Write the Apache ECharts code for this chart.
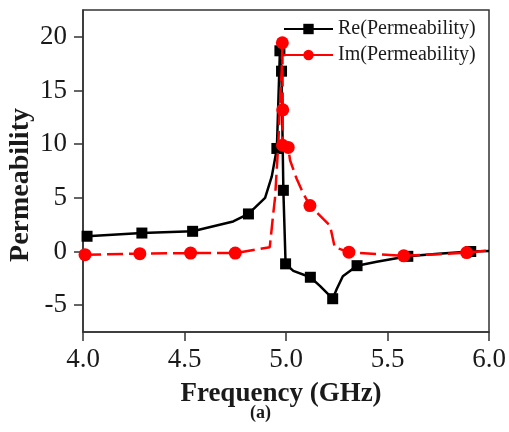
<!DOCTYPE html>
<html>
<head>
<meta charset="utf-8">
<script src="https://cdn.jsdelivr.net/npm/echarts@6/dist/echarts.min.js"></script>
<style>html,body{margin:0;padding:0;background:#fff}#c{width:509px;height:432px}</style>
</head>
<body>
<div id="c"></div>
<script>
// ---- data ----
var xTicks = [4.0, 4.5, 5.0, 5.5, 6.0];
var yTicks = [-5, 0, 5, 10, 15, 20];

// Re(Permeability): frequency (GHz), value, marker shown (1) or not (0)
var reFreq   = [4.02, 4.29, 4.54, 4.74, 4.815, 4.897, 4.93, 4.955, 4.970, 4.978, 4.987, 4.998, 5.036, 5.12, 5.167, 5.23, 5.25, 5.28, 5.35, 5.447, 5.60, 5.75, 5.91, 6.0];
var reValue  = [1.42, 1.72, 1.88, 2.8, 3.5, 5.0, 7.0, 9.6, 18.7, 16.8, 5.7, -1.15, -1.8, -2.4, -3.2, -4.4, -3.5, -2.3, -1.32, -0.95, -0.45, -0.2, 0.0, 0.05];
var reMarked = [1, 1, 1, 0, 1, 0, 0, 1, 1, 1, 1, 1, 0, 1, 0, 1, 0, 0, 1, 0, 1, 0, 1, 0];

// Im(Permeability)
var imFreq   = [4.01, 4.28, 4.53, 4.75, 4.92, 4.937, 4.946, 4.962, 4.972, 4.979, 4.982, 4.984, 4.983, 5.011, 5.02, 5.052, 5.085, 5.118, 5.217, 5.24, 5.31, 5.45, 5.58, 5.75, 5.89, 6.0];
var imValue  = [-0.3, -0.2, -0.15, -0.15, 0.4, 3.5, 5.0, 10.0, 14.5, 16.9, 19.45, 13.2, 9.9, 9.7, 8.5, 6.8, 5.4, 4.28, 2.4, 0.4, -0.06, -0.25, -0.4, -0.25, -0.1, 0.1];
var imMarked = [1, 1, 1, 1, 0, 0, 0, 0, 0, 0, 1, 1, 1, 1, 0, 0, 0, 1, 0, 0, 1, 0, 1, 0, 1, 0];

var seriesNames = ['Re(Permeability)', 'Im(Permeability)'];
var xTitle = 'Frequency (GHz)';
var yTitle = 'Permeability';
var panelLabel = '(a)';

function build(fx, vy, mk) {
  return fx.map(function (f, i) {
    return mk[i] ? { value: [f, vy[i]] } : { value: [f, vy[i]], symbol: 'none' };
  });
}

var FONT = '"Liberation Serif", "Times New Roman", serif';
var TXT = '#1a1a1a';
var AX = '#333';

var chart = echarts.init(document.getElementById('c'), null, { renderer: 'canvas' });
chart.setOption({
  animation: false,
  backgroundColor: '#fff',
  grid: { left: 83, right: 20, top: 10, bottom: 100, show: true, borderColor: AX, borderWidth: 1.5, backgroundColor: 'transparent', containLabel: false, outerBoundsMode: 'none' },
  legend: {
    orient: 'vertical',
    left: 278,
    top: 14,
    itemWidth: 49,
    itemHeight: 13,
    itemGap: 6,
    textStyle: { fontFamily: FONT, fontSize: 20, color: TXT },
    lineStyle: { type: 'solid' },
    data: seriesNames
  },
  xAxis: {
    type: 'value', min: 4, max: 6, interval: 0.5,
    name: xTitle, nameLocation: 'middle', nameGap: 49, nameMoveOverlap: false,
    nameTextStyle: { fontFamily: FONT, fontSize: 27, fontWeight: 'bold', color: TXT, padding: [0, 10, 0, 0] },
    axisLine: { show: true, onZero: false, lineStyle: { color: AX, width: 1.5 } },
    axisTick: { show: true, inside: false, length: 9, lineStyle: { color: AX, width: 1.5 } },
    axisLabel: { fontFamily: FONT, fontSize: 27, color: TXT, margin: 14, formatter: function (v) { return v.toFixed(1); } },
    splitLine: { show: false }
  },
  yAxis: {
    type: 'value', min: -7.5, max: 22.5,
    name: yTitle, nameLocation: 'middle', nameGap: 48, nameMoveOverlap: false,
    nameTextStyle: { fontFamily: FONT, fontSize: 28, fontWeight: 'bold', color: TXT, padding: [0, 28, 0, 0] },
    axisLine: { show: true, onZero: false, lineStyle: { color: AX, width: 1.5 } },
    axisTick: { show: true, inside: false, length: 9, customValues: yTicks, lineStyle: { color: AX, width: 1.5 } },
    axisLabel: { fontFamily: FONT, fontSize: 27, color: TXT, margin: 16, customValues: yTicks },
    splitLine: { show: false }
  },
  series: [
    {
      name: seriesNames[0], type: 'line',
      data: build(reFreq, reValue, reMarked),
      symbol: 'rect', symbolSize: 11,
      itemStyle: { color: '#000' },
      lineStyle: { color: '#000', width: 2.5 },
      z: 3
    },
    {
      name: seriesNames[1], type: 'line',
      data: build(imFreq, imValue, imMarked),
      symbol: 'circle', symbolSize: 13,
      itemStyle: { color: '#ff0000' },
      lineStyle: { color: '#ff0000', width: 2.5, type: [16, 6] },
      z: 4
    }
  ],
  graphic: [{
    type: 'text', left: 250, top: 404,
    style: { text: panelLabel, font: 'bold 18px ' + FONT, fill: TXT }
  }]
});
</script>
</body>
</html>
